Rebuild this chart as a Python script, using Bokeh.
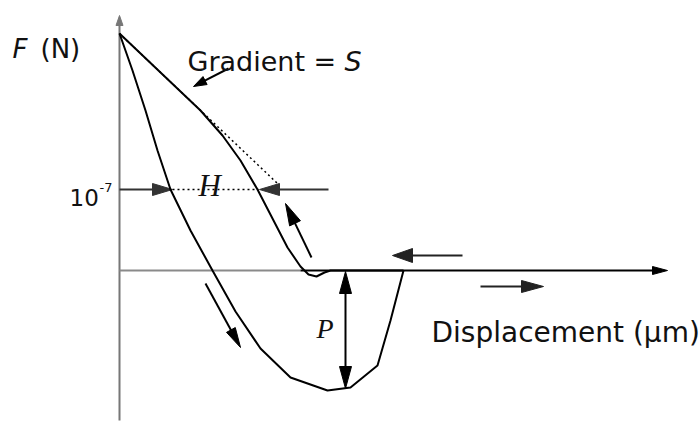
import numpy as np
from bokeh.plotting import figure
from bokeh.models import Range1d
from bokeh.core.properties import value
from bokeh.embed import file_html
from bokeh.resources import INLINE

# Force-displacement curve, drawn in screen-like units (y grows downward)
approach_x = [119, 132, 145, 157, 170, 190, 212, 235, 260, 290, 327, 350, 377, 390, 403]
approach_y = [33, 70, 110, 150, 189, 230, 270, 311, 348, 377, 390, 387, 365, 320, 270]

retract_x = [403, 330, 324, 316, 308, 300, 287, 272, 257, 240, 222, 200, 119]
retract_y = [270, 270, 272, 276, 274, 266, 247, 218, 189, 160, 135, 110, 33]

# Tangent at the top of the retract curve (gradient S)
tangent_x = [119, 277]
tangent_y = [33, 183]

# Reference force level 10^-7 and the hysteresis width H
force_level_y = 189
h_left_x, h_right_x = 172, 258

# Pull-off force P (from the zero line down to the well minimum)
p_x = 345
p_top_y, p_bottom_y = 271, 388

AXIS_ORIGIN = (119, 270)

p = figure(width=699, height=421, x_range=Range1d(0, 699), y_range=Range1d(421, 0),
           min_border=0, toolbar_location=None, output_backend="svg",
           x_axis_location=None, y_axis_location=None)
p.grid.visible = False
p.outline_line_color = None
p.background_fill_color = "white"
p.border_fill_color = "white"


def head(x0, y0, x1, y1, length, width):
    """Filled triangular arrowhead pointing from (x0, y0) to the tip (x1, y1)."""
    d = np.array([x1 - x0, y1 - y0], dtype=float)
    d /= np.hypot(*d)
    n = np.array([-d[1], d[0]])
    base = np.array([x1, y1]) - d * length
    a = base + n * width / 2
    b = base - n * width / 2
    return [x1, a[0], b[0]], [y1, a[1], b[1]]


def arrow(x0, y0, x1, y1, length=20, width=12, color="black", lw=2):
    d = np.array([x1 - x0, y1 - y0], dtype=float)
    d /= np.hypot(*d)
    sx, sy = x1 - d[0] * length * 0.6, y1 - d[1] * length * 0.6
    p.line([x0, sx], [y0, sy], line_color=color, line_width=lw)
    hx, hy = head(x0, y0, x1, y1, length, width)
    p.patch(hx, hy, fill_color=color, line_color=color, line_width=1)


# Axes
ox, oy = AXIS_ORIGIN
arrow(ox, 420, ox, 15, length=10, width=7, color="#777777", lw=2)
p.line([ox, 300], [oy, oy], line_color="#8a8a8a", line_width=2)
arrow(300, oy, 667, oy, length=15, width=8, color="black", lw=2)

# Tangent (dotted) and the H level
p.line(tangent_x, tangent_y, line_color="black", line_width=1.5, line_dash="2 3")
p.line([h_left_x, h_right_x], [force_level_y, force_level_y], line_color="black",
       line_width=1.5, line_dash="2 3")
arrow(ox, force_level_y, h_left_x, force_level_y, length=20, width=12, color="#333333")
arrow(328, force_level_y, h_right_x + 1, force_level_y, length=20, width=12, color="#333333")

# Curves
p.line(approach_x, approach_y, line_color="black", line_width=2)
p.line(retract_x, retract_y, line_color="black", line_width=2)

# Direction arrows
arrow(228, 68, 193, 86, length=13, width=9)
arrow(311, 257, 285, 203, length=22, width=12)
arrow(462, 255, 392, 255, length=20, width=14, color="#222222")
arrow(480, 286, 543, 286, length=22, width=12, color="#222222")
arrow(205, 283, 240, 347, length=20, width=10)

# Pull-off double arrow
mid = (p_top_y + p_bottom_y) / 2
arrow(p_x, mid, p_x, p_top_y, length=22, width=12)
arrow(p_x, mid, p_x, p_bottom_y, length=22, width=12)

sans = value("DejaVu Sans")
serif = value("Liberation Serif")
ink = "#111111"

p.text(x=[12], y=[48], text=["F"], text_font=sans, text_font_size="26px",
       text_font_style="italic", text_baseline="alphabetic", text_color=ink)
p.text(x=[40], y=[48], text=["(N)"], text_font=sans, text_font_size="26px",
       text_baseline="alphabetic", text_color=ink)

p.text(x=[187], y=[61], text=["Gradient ="], text_font=sans, text_font_size="27px",
       text_baseline="alphabetic", text_color=ink)
p.text(x=[344], y=[61], text=["S"], text_font=sans, text_font_size="27px",
       text_font_style="italic", text_baseline="alphabetic", text_color=ink)

p.text(x=[69], y=[197], text=["10"], text_font=sans, text_font_size="23px",
       text_baseline="alphabetic", text_color=ink)
p.text(x=[99], y=[187], text=["-7"], text_font=sans, text_font_size="13px",
       text_baseline="alphabetic", text_color=ink)

p.text(x=[198], y=[185], text=["H"], text_font=serif, text_font_size="31px",
       text_font_style="italic", text_baseline="alphabetic", text_color=ink)
p.text(x=[316], y=[328], text=["P"], text_font=serif, text_font_size="28px",
       text_font_style="italic", text_baseline="alphabetic", text_color=ink)

p.text(x=[431], y=[332], text=["Displacement (\u03bcm)"], text_font=sans,
       text_font_size="28px", text_baseline="alphabetic", text_color=ink)

open("out.html", "w").write(file_html(p, INLINE))
